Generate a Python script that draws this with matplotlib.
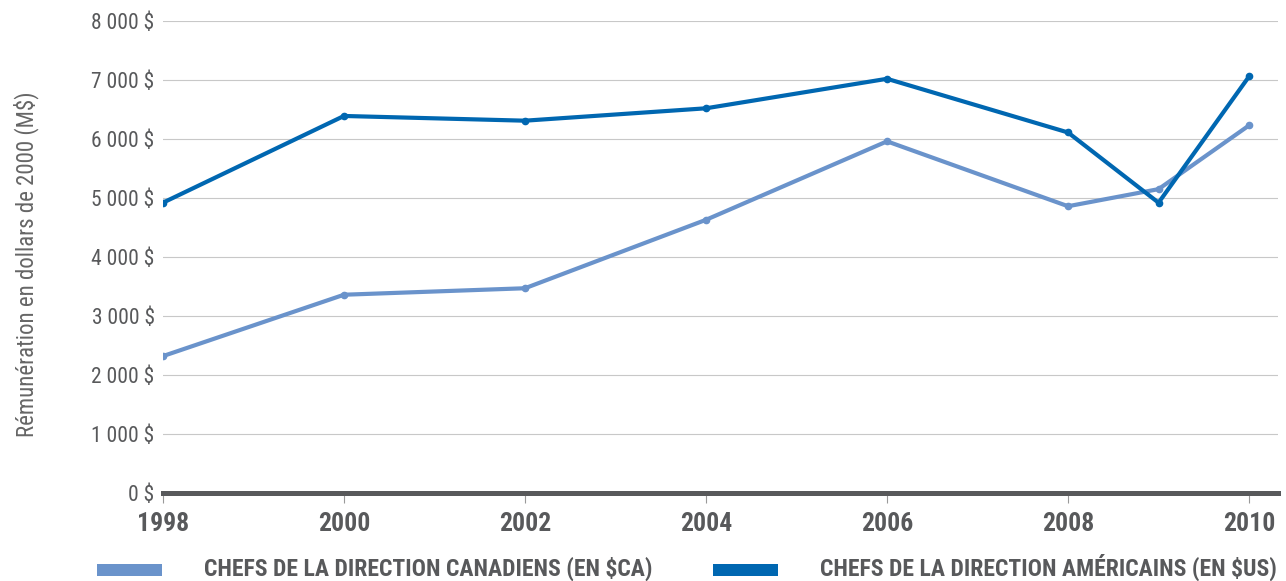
import matplotlib
matplotlib.use("Agg")
import matplotlib.pyplot as plt
from matplotlib.patches import Rectangle
from matplotlib.ticker import FuncFormatter

plt.rcParams['font.family'] = ['Roboto Condensed', 'Liberation Sans Narrow', 'Arial Narrow', 'Roboto']

years = [1998, 2000, 2002, 2004, 2006, 2008, 2009, 2010]
canada = [2320, 3360, 3470, 4630, 5960, 4860, 5150, 6230]
usa = [4920, 6390, 6310, 6520, 7020, 6110, 4920, 7060]
year_ticks = [1998, 2000, 2002, 2004, 2006, 2008, 2010]
labels = ["CHEFS DE LA DIRECTION CANADIENS (EN $CA)",
          "CHEFS DE LA DIRECTION AMÉRICAINS (EN $US)"]

c_light = '#6a93cb'
c_dark = '#0067b1'
grey = '#58595b'

fig = plt.figure(figsize=(12.86, 5.81), dpi=100)
ax = fig.add_axes([0.1267, 0.1515, 0.8671, 0.8124])

ax.plot(years, canada, color=c_light, lw=3, marker='o', ms=4.5, solid_joinstyle='round', zorder=3)
ax.plot(years, usa, color=c_dark, lw=3, marker='o', ms=4.5, solid_joinstyle='round', zorder=4)

ax.set_xlim(1998, 2010.32)
ax.set_ylim(0, 8000)
ax.set_yticks(range(0, 8001, 1000))
ax.set_xticks(year_ticks)
ax.yaxis.set_major_formatter(FuncFormatter(lambda v, p: f"{int(v):,} $".replace(",", " ")))
ax.grid(axis='y', color='#c8c8c8', lw=0.8)
ax.set_axisbelow(True)

for s in ['top', 'right', 'left']:
    ax.spines[s].set_visible(False)
ax.spines['bottom'].set_color(grey)
ax.spines['bottom'].set_linewidth(3.6)
ax.spines['bottom'].set_zorder(5)

ax.tick_params(axis='y', length=0, pad=6, labelsize=15.5, labelcolor=grey)
ax.tick_params(axis='x', length=7, width=0.8, color='#999999', direction='out', pad=7,
               labelsize=18.5, labelcolor=grey)
for t in ax.get_xticklabels():
    t.set_fontweight('bold')

ax.set_ylabel("Rémunération en dollars de 2000 (M$)", fontsize=16.5, color='#666666')
ax.yaxis.set_label_coords(-0.111, 0.485)

# legend drawn by hand: colour swatch + bold caption
for x0, x_txt, col, lab in [(97, 204, c_light, labels[0]), (713, 820, c_dark, labels[1])]:
    fig.add_artist(Rectangle((x0 / 1286, 1 - 576 / 581), 65 / 1286, 12 / 581,
                             transform=fig.transFigure, color=col, lw=0))
    fig.text(x_txt / 1286, 1 - 576 / 581, lab, ha='left', va='baseline',
             fontsize=17, fontweight='bold', color=grey)

fig.savefig("out.png", dpi=100)
